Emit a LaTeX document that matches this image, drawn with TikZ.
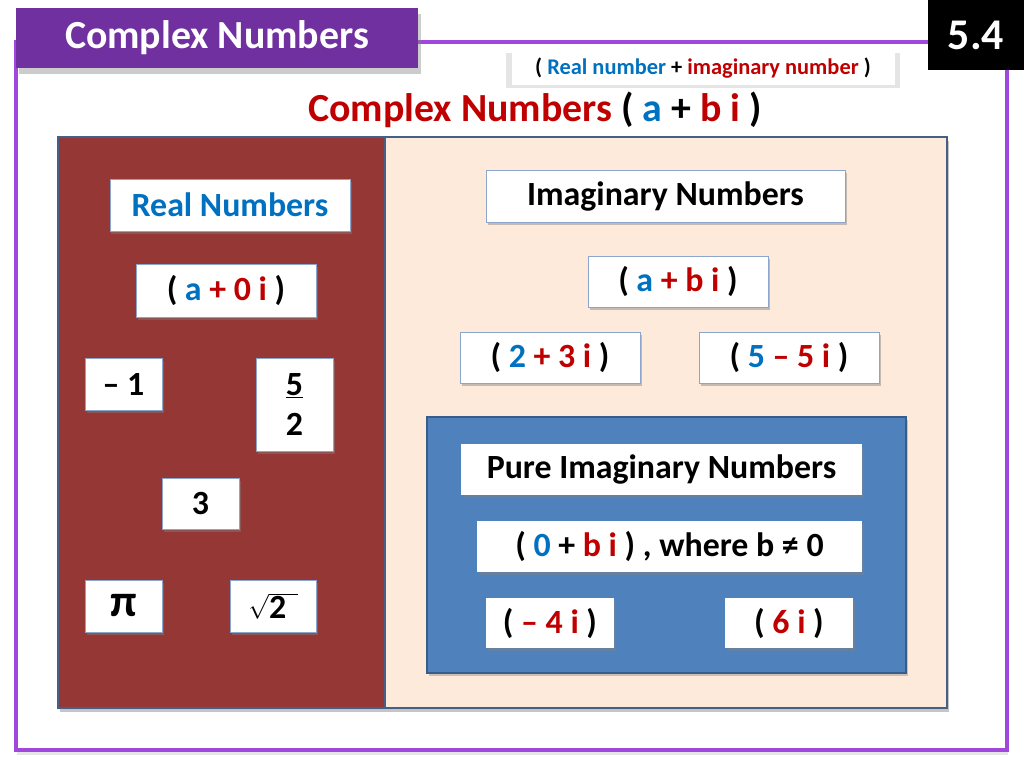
\documentclass[tikz,border=0pt]{standalone}
\usepackage{fontspec}
\setmainfont{Carlito}
\usetikzlibrary{shadows}

\definecolor{framepurple}{RGB}{160,72,220}
\definecolor{hdrpurple}{RGB}{112,48,160}
\definecolor{realred}{RGB}{149,55,53}
\definecolor{peach}{RGB}{253,234,218}
\definecolor{pureblue}{RGB}{79,129,189}
\definecolor{pureline}{RGB}{56,93,138}
\definecolor{mainline}{RGB}{70,95,135}
\definecolor{boxline}{RGB}{140,165,205}
\definecolor{cblue}{RGB}{0,112,192}
\definecolor{cred}{RGB}{192,0,0}

\begin{document}
\begin{tikzpicture}[x=1bp, y=-1bp,
  numbox/.style={rectangle, draw=boxline, line width=0.8bp, fill=white, inner sep=0pt,
    font=\fontsize{34}{36}\selectfont\bfseries,
    drop shadow={shadow xshift=1.5bp, shadow yshift=-2.5bp, opacity=0.45}},
  purebox/.style={numbox, draw=none}]

\useasboundingbox (0,0) rectangle (1024,768);

%% MARCO Y CABECERA
\draw[framepurple, line width=4bp, fill=white, drop shadow={shadow xshift=1bp, shadow yshift=-5bp, opacity=0.2}] (16,42) rectangle (1007,750);

\node[rectangle, fill=hdrpurple, minimum width=402bp, minimum height=60bp, text=white, font=\fontsize{40}{42}\selectfont\bfseries, drop shadow={shadow xshift=3bp, shadow yshift=-6bp, opacity=0.4}] at (217,38) (Header) {Complex Numbers};

\node[rectangle, fill=black, minimum width=96bp, minimum height=70bp, text=white, font=\fontsize{44}{46}\selectfont\bfseries] at (976,35) (Section) {5.4};

% Subtitulo y titulo
\node[rectangle, fill=white, minimum width=383bp, minimum height=34bp, font=\fontsize{22.5}{24}\selectfont\bfseries, drop shadow={shadow scale=1.03, shadow xshift=0bp, shadow yshift=-2bp, opacity=0.2}] at (703,68) (Sub) {( \textcolor{cblue}{Real number} + \textcolor{cred}{imaginary number} )};

\node[font=\fontsize{40}{42}\selectfont\bfseries] at (535,110) (Title) {\textcolor{cred}{Complex Numbers} ( \textcolor{cblue}{a} + \textcolor{cred}{b i} )};

%% CAJA PRINCIPAL
\node[rectangle, fill=peach, draw=mainline, line width=2bp, minimum width=889bp, minimum height=571bp, drop shadow={shadow xshift=2bp, shadow yshift=-4bp, opacity=0.45}] at (502.5,422.5) (Main) {};
\node[rectangle, fill=realred, draw=mainline, line width=2bp, minimum width=327bp, minimum height=571bp] at (221.5,422.5) (Real) {};

% Numeros reales
\node[numbox, minimum width=240bp, minimum height=52bp, text=cblue] at (230,205) (RealT) {Real Numbers};
\node[numbox, minimum width=180bp, minimum height=53bp] at (226,290.5) (RealF) {( \textcolor{cblue}{a} \textcolor{cred}{+ 0 i} )};
\node[numbox, minimum width=77bp, minimum height=52bp] at (123.5,384) (Neg) {-- 1};
\node[numbox, minimum width=77bp, minimum height=93bp, align=center, font=\fontsize{34}{40}\selectfont\bfseries] at (294.5,404.5) (Half) {\underline{5}\\2};
\node[numbox, minimum width=77bp, minimum height=51bp] at (200.5,503.5) (Three) {3};
\node[numbox, minimum width=77bp, minimum height=52bp, font=\fontsize{46}{48}\selectfont\bfseries] at (123.5,606) (Pi) {π};
\node[numbox, minimum width=86bp, minimum height=52bp] at (273,606) (Root) {$\sqrt{\hbox{\fontsize{34}{36}\selectfont\bfseries 2\,\,}}$};

% Numeros imaginarios
\node[numbox, minimum width=359bp, minimum height=52bp] at (665.5,196) (ImagT) {Imaginary Numbers};
\node[numbox, minimum width=180bp, minimum height=51bp] at (678,281.5) (ImagF) {( \textcolor{cblue}{a} \textcolor{cred}{+ b i} )};
\node[numbox, minimum width=180bp, minimum height=51bp] at (550,357.5) (ExA) {( \textcolor{cblue}{2} \textcolor{cred}{+ 3 i} )};
\node[numbox, minimum width=180bp, minimum height=51bp] at (789,357.5) (ExB) {( \textcolor{cblue}{5} \textcolor{cred}{-- 5 i} )};

% Imaginarios puros
\node[rectangle, fill=pureblue, draw=pureline, line width=1.5bp, minimum width=479bp, minimum height=256bp, drop shadow={shadow xshift=2bp, shadow yshift=-3bp, opacity=0.4}] at (666.5,545) (Pure) {};
\node[purebox, minimum width=401bp, minimum height=51bp] at (661.5,469.5) (PureT) {Pure Imaginary Numbers};
\node[purebox, minimum width=385bp, minimum height=51bp] at (669.5,546.5) (PureF) {( \textcolor{cblue}{0} + \textcolor{cred}{b i} ) , where b ≠ 0};
\node[purebox, minimum width=128bp, minimum height=50bp] at (550,623) (ExC) {( \textcolor{cred}{-- 4 i} )};
\node[purebox, minimum width=128bp, minimum height=50bp] at (789,623) (ExD) {( \textcolor{cred}{6 i} )};

\end{tikzpicture}
\end{document}
